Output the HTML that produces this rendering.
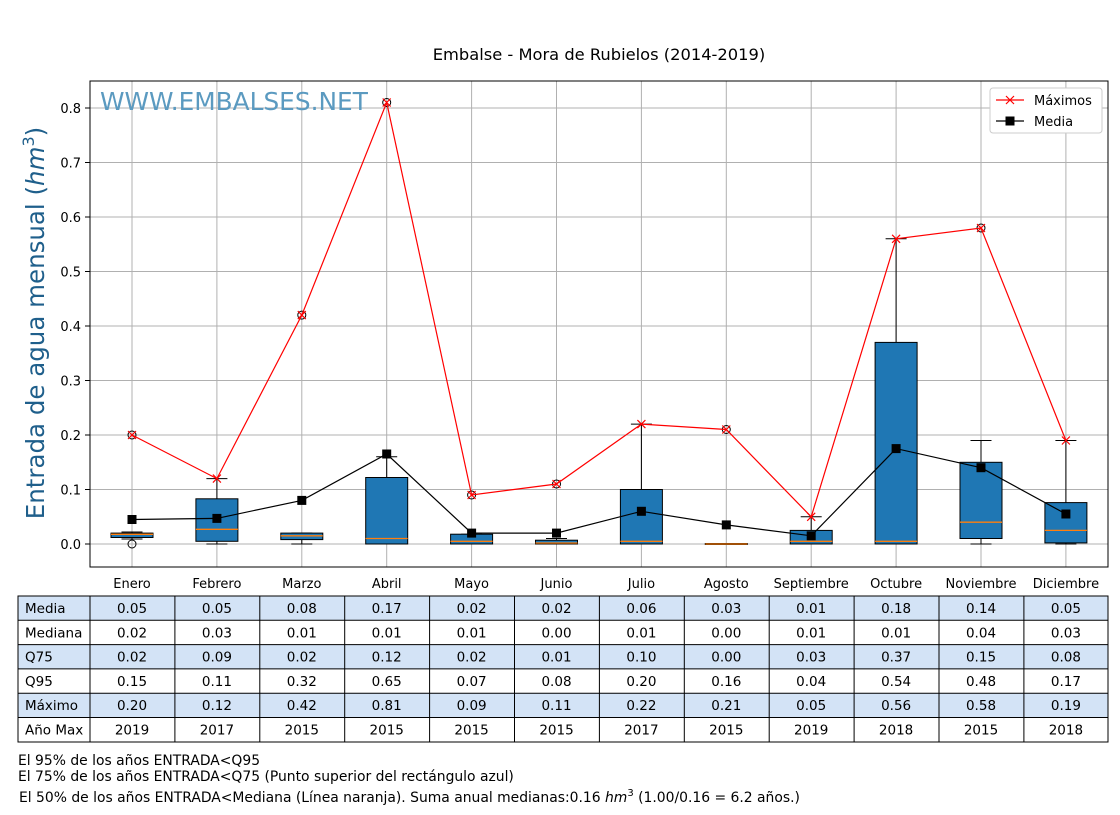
<!DOCTYPE html>
<html><head><meta charset="utf-8"><style>
body{margin:0;background:#fff}
svg text{font-family:"DejaVu Sans","Liberation Sans",sans-serif}
</style></head><body>
<svg width="1120" height="810" viewBox="0 0 1120 810" xmlns="http://www.w3.org/2000/svg">
<rect width="1120" height="810" fill="#fff"/>
<text x="599" y="60" font-size="16.3" text-anchor="middle">Embalse - Mora de Rubielos (2014-2019)</text>
<g stroke="#b0b0b0" stroke-width="1">
<line x1="90" x2="1108" y1="544" y2="544"/><line x1="90" x2="1108" y1="489.5" y2="489.5"/>
<line x1="90" x2="1108" y1="435" y2="435"/><line x1="90" x2="1108" y1="380.5" y2="380.5"/>
<line x1="90" x2="1108" y1="326" y2="326"/><line x1="90" x2="1108" y1="271.5" y2="271.5"/>
<line x1="90" x2="1108" y1="217" y2="217"/><line x1="90" x2="1108" y1="162.5" y2="162.5"/>
<line x1="90" x2="1108" y1="108" y2="108"/>
<line y1="81" y2="567" x1="132" x2="132"/><line y1="81" y2="567" x1="216.9" x2="216.9"/>
<line y1="81" y2="567" x1="301.8" x2="301.8"/><line y1="81" y2="567" x1="386.7" x2="386.7"/>
<line y1="81" y2="567" x1="471.6" x2="471.6"/><line y1="81" y2="567" x1="556.5" x2="556.5"/>
<line y1="81" y2="567" x1="641.4" x2="641.4"/><line y1="81" y2="567" x1="726.3" x2="726.3"/>
<line y1="81" y2="567" x1="811.2" x2="811.2"/><line y1="81" y2="567" x1="896.1" x2="896.1"/>
<line y1="81" y2="567" x1="981" x2="981"/><line y1="81" y2="567" x1="1065.9" x2="1065.9"/>
</g>
<text x="100" y="110" font-size="24.8" fill="#5b9ac0" font-family="DejaVu Sans">WWW.EMBALSES.NET</text>
<g stroke="#000" stroke-width="1" fill="none">
<path d="M132 537.5V539M121.5 539H142.5M132 533V532M121.5 532H142.5"/>
<path d="M216.9 541.3V544M206.4 544H227.4M216.9 498.8V478.6M206.4 478.6H227.4"/>
<path d="M301.8 539.6V544M291.3 544H312.3M291.3 533H312.3"/>
<path d="M376.2 544H397.2M386.7 477.5V456.8M376.2 456.8H397.2"/>
<path d="M461.1 544H482.1M461.1 534.2H482.1"/>
<path d="M546 544H567M556.5 540.2V538.5M546 538.5H567"/>
<path d="M630.9 544H651.9M641.4 489.5V424.1M630.9 424.1H651.9"/>
<path d="M715.8 544H736.8"/>
<path d="M800.7 544H821.7M811.2 530.4V516.8M800.7 516.8H821.7"/>
<path d="M885.6 544H906.6M896.1 342.4V238.8M885.6 238.8H906.6"/>
<path d="M981 538.5V544M970.5 544H991.5M981 462.3V440.5M970.5 440.5H991.5"/>
<path d="M1065.9 542.9V544M1055.4 544H1076.4M1065.9 502.6V440.5M1055.4 440.5H1076.4"/>
</g>
<g fill="#1f77b4" stroke="#000" stroke-width="1">
<rect x="111" y="533.1" width="42" height="4.4"/>
<rect x="195.9" y="498.8" width="42" height="42.5"/>
<rect x="280.8" y="533.1" width="42" height="6.5"/>
<rect x="365.7" y="477.5" width="42" height="66.5"/>
<rect x="450.6" y="534.2" width="42" height="9.8"/>
<rect x="535.5" y="540.2" width="42" height="3.8"/>
<rect x="620.4" y="489.5" width="42" height="54.5"/>
<rect x="705.3" y="543.5" width="42" height="1"/>
<rect x="790.2" y="530.4" width="42" height="13.6"/>
<rect x="875.1" y="342.4" width="42" height="201.6"/>
<rect x="960" y="462.3" width="42" height="76.2"/>
<rect x="1044.9" y="502.6" width="42" height="40.3"/>
</g>
<g stroke="#ff7f0e" stroke-width="1.3">
<line x1="111" x2="153" y1="534.3" y2="534.3"/><line x1="195.9" x2="237.9" y1="529.3" y2="529.3"/>
<line x1="280.8" x2="322.8" y1="535.8" y2="535.8"/><line x1="365.7" x2="407.7" y1="538.5" y2="538.5"/>
<line x1="450.6" x2="492.6" y1="541.3" y2="541.3"/><line x1="535.5" x2="577.5" y1="543" y2="543"/>
<line x1="620.4" x2="662.4" y1="541.3" y2="541.3"/><line x1="705.3" x2="747.3" y1="544" y2="544"/>
<line x1="790.2" x2="832.2" y1="541.3" y2="541.3"/><line x1="875.1" x2="917.1" y1="541.3" y2="541.3"/>
<line x1="960" x2="1002" y1="522.2" y2="522.2"/><line x1="1044.9" x2="1086.9" y1="530.4" y2="530.4"/>
</g>
<g fill="none" stroke="#000" stroke-width="1">
<circle cx="132" cy="544" r="4"/><circle cx="132" cy="435" r="4"/>
<circle cx="301.8" cy="315.1" r="4"/><circle cx="386.7" cy="102.5" r="4"/>
<circle cx="471.6" cy="495" r="4"/><circle cx="556.5" cy="484" r="4"/>
<circle cx="726.3" cy="429.5" r="4"/><circle cx="981" cy="228" r="4"/>
</g>
<polyline fill="none" stroke="#f00" stroke-width="1.2" points="132,435 216.9,478.6 301.8,315.1 386.7,102.5 471.6,495 556.5,484 641.4,424.1 726.3,429.5 811.2,516.8 896.1,238.8 981,228 1065.9,440.5"/>
<g stroke="#f00" stroke-width="1.2">
<path d="M128 431l8 8M136 431l-8 8"/><path d="M212.9 474.6l8 8M220.9 474.6l-8 8"/>
<path d="M297.8 311.1l8 8M305.8 311.1l-8 8"/><path d="M382.7 98.5l8 8M390.7 98.5l-8 8"/>
<path d="M467.6 491l8 8M475.6 491l-8 8"/><path d="M552.5 480l8 8M560.5 480l-8 8"/>
<path d="M637.4 420.1l8 8M645.4 420.1l-8 8"/><path d="M722.3 425.5l8 8M730.3 425.5l-8 8"/>
<path d="M807.2 512.8l8 8M815.2 512.8l-8 8"/><path d="M892.1 234.8l8 8M900.1 234.8l-8 8"/>
<path d="M977 224l8 8M985 224l-8 8"/><path d="M1061.9 436.5l8 8M1069.9 436.5l-8 8"/>
</g>
<polyline fill="none" stroke="#000" stroke-width="1.2" points="132,519.5 216.9,518.4 301.8,500.4 386.7,454 471.6,533.1 556.5,533.1 641.4,511.3 726.3,524.9 811.2,535.8 896.1,448.6 981,467.7 1065.9,514"/>
<g fill="#000">
<rect x="127.5" y="515" width="9" height="9"/><rect x="212.4" y="513.9" width="9" height="9"/>
<rect x="297.3" y="495.9" width="9" height="9"/><rect x="382.2" y="449.5" width="9" height="9"/>
<rect x="467.1" y="528.6" width="9" height="9"/><rect x="552" y="528.6" width="9" height="9"/>
<rect x="636.9" y="506.8" width="9" height="9"/><rect x="721.8" y="520.4" width="9" height="9"/>
<rect x="806.7" y="531.3" width="9" height="9"/><rect x="891.6" y="444.1" width="9" height="9"/>
<rect x="976.5" y="463.2" width="9" height="9"/><rect x="1061.4" y="509.5" width="9" height="9"/>
</g>
<rect x="90" y="81" width="1018" height="486" fill="none" stroke="#000" stroke-width="1"/>
<g stroke="#000"><line x1="85" x2="90" y1="544" y2="544"/><line x1="85" x2="90" y1="489.5" y2="489.5"/><line x1="85" x2="90" y1="435" y2="435"/><line x1="85" x2="90" y1="380.5" y2="380.5"/><line x1="85" x2="90" y1="326" y2="326"/><line x1="85" x2="90" y1="271.5" y2="271.5"/><line x1="85" x2="90" y1="217" y2="217"/><line x1="85" x2="90" y1="162.5" y2="162.5"/><line x1="85" x2="90" y1="108" y2="108"/></g>
<g font-size="13" text-anchor="end">
<text x="81" y="549">0.0</text><text x="81" y="494.5">0.1</text><text x="81" y="440">0.2</text><text x="81" y="385.5">0.3</text><text x="81" y="331">0.4</text><text x="81" y="276.5">0.5</text><text x="81" y="222">0.6</text><text x="81" y="167.5">0.7</text><text x="81" y="113">0.8</text>
</g>
<g font-size="13" text-anchor="middle">
<text x="132" y="588">Enero</text><text x="216.9" y="588">Febrero</text><text x="301.8" y="588">Marzo</text><text x="386.7" y="588">Abril</text><text x="471.6" y="588">Mayo</text><text x="556.5" y="588">Junio</text><text x="641.4" y="588">Julio</text><text x="726.3" y="588">Agosto</text><text x="811.2" y="588">Septiembre</text><text x="896.1" y="588">Octubre</text><text x="981" y="588">Noviembre</text><text x="1065.9" y="588">Diciembre</text>
</g>
<text transform="translate(44 323) rotate(-90)" font-size="24.5" fill="#1f5f8b" text-anchor="middle">Entrada de agua mensual (<tspan font-style="italic">hm</tspan><tspan font-size="16" dy="-10">3</tspan><tspan dy="10">)</tspan></text>
<rect x="990" y="88" width="112" height="45" rx="3" fill="#fff" stroke="#ccc"/>
<line x1="996" x2="1024" y1="100" y2="100" stroke="#f00" stroke-width="1.2"/><path d="M1006 96l8 8M1014 96l-8 8" stroke="#f00" stroke-width="1.2"/>
<text x="1034" y="105" font-size="13">Máximos</text>
<line x1="996" x2="1024" y1="121" y2="121" stroke="#000" stroke-width="1.2"/><rect x="1005.5" y="116.5" width="9" height="9"/>
<text x="1034" y="126" font-size="13">Media</text>
<g stroke="none">
<rect x="18" y="596" width="1090" height="24.3" fill="#d3e3f6"/>
<rect x="18" y="644.6" width="1090" height="24.3" fill="#d3e3f6"/>
<rect x="18" y="693.2" width="1090" height="24.3" fill="#d3e3f6"/>
</g>
<g stroke="#000" stroke-width="1" fill="none">
<rect x="18" y="596" width="1090" height="146"/>
<line x1="18" x2="1108" y1="620.3" y2="620.3"/><line x1="18" x2="1108" y1="644.6" y2="644.6"/><line x1="18" x2="1108" y1="668.9" y2="668.9"/><line x1="18" x2="1108" y1="693.2" y2="693.2"/><line x1="18" x2="1108" y1="717.5" y2="717.5"/>
<line y1="596" y2="742" x1="90" x2="90"/><line y1="596" y2="742" x1="174.9" x2="174.9"/><line y1="596" y2="742" x1="259.8" x2="259.8"/><line y1="596" y2="742" x1="344.7" x2="344.7"/><line y1="596" y2="742" x1="429.6" x2="429.6"/><line y1="596" y2="742" x1="514.5" x2="514.5"/><line y1="596" y2="742" x1="599.4" x2="599.4"/><line y1="596" y2="742" x1="684.3" x2="684.3"/><line y1="596" y2="742" x1="769.2" x2="769.2"/><line y1="596" y2="742" x1="854.1" x2="854.1"/><line y1="596" y2="742" x1="939" x2="939"/><line y1="596" y2="742" x1="1023.9" x2="1023.9"/>
</g>
<g font-size="13.5">
<text x="25" y="613">Media</text><text x="25" y="637.3">Mediana</text><text x="25" y="661.6">Q75</text><text x="25" y="685.9">Q95</text><text x="25" y="710.2">Máximo</text><text x="25" y="734.5">Año Max</text>
</g>
<g font-size="13.5" text-anchor="middle">
<text y="613"><tspan x="132">0.05</tspan><tspan x="216.9">0.05</tspan><tspan x="301.8">0.08</tspan><tspan x="386.7">0.17</tspan><tspan x="471.6">0.02</tspan><tspan x="556.5">0.02</tspan><tspan x="641.4">0.06</tspan><tspan x="726.3">0.03</tspan><tspan x="811.2">0.01</tspan><tspan x="896.1">0.18</tspan><tspan x="981">0.14</tspan><tspan x="1065.9">0.05</tspan></text>
<text y="637.3"><tspan x="132">0.02</tspan><tspan x="216.9">0.03</tspan><tspan x="301.8">0.01</tspan><tspan x="386.7">0.01</tspan><tspan x="471.6">0.01</tspan><tspan x="556.5">0.00</tspan><tspan x="641.4">0.01</tspan><tspan x="726.3">0.00</tspan><tspan x="811.2">0.01</tspan><tspan x="896.1">0.01</tspan><tspan x="981">0.04</tspan><tspan x="1065.9">0.03</tspan></text>
<text y="661.6"><tspan x="132">0.02</tspan><tspan x="216.9">0.09</tspan><tspan x="301.8">0.02</tspan><tspan x="386.7">0.12</tspan><tspan x="471.6">0.02</tspan><tspan x="556.5">0.01</tspan><tspan x="641.4">0.10</tspan><tspan x="726.3">0.00</tspan><tspan x="811.2">0.03</tspan><tspan x="896.1">0.37</tspan><tspan x="981">0.15</tspan><tspan x="1065.9">0.08</tspan></text>
<text y="685.9"><tspan x="132">0.15</tspan><tspan x="216.9">0.11</tspan><tspan x="301.8">0.32</tspan><tspan x="386.7">0.65</tspan><tspan x="471.6">0.07</tspan><tspan x="556.5">0.08</tspan><tspan x="641.4">0.20</tspan><tspan x="726.3">0.16</tspan><tspan x="811.2">0.04</tspan><tspan x="896.1">0.54</tspan><tspan x="981">0.48</tspan><tspan x="1065.9">0.17</tspan></text>
<text y="710.2"><tspan x="132">0.20</tspan><tspan x="216.9">0.12</tspan><tspan x="301.8">0.42</tspan><tspan x="386.7">0.81</tspan><tspan x="471.6">0.09</tspan><tspan x="556.5">0.11</tspan><tspan x="641.4">0.22</tspan><tspan x="726.3">0.21</tspan><tspan x="811.2">0.05</tspan><tspan x="896.1">0.56</tspan><tspan x="981">0.58</tspan><tspan x="1065.9">0.19</tspan></text>
<text y="734.5"><tspan x="132">2019</tspan><tspan x="216.9">2017</tspan><tspan x="301.8">2015</tspan><tspan x="386.7">2015</tspan><tspan x="471.6">2015</tspan><tspan x="556.5">2015</tspan><tspan x="641.4">2017</tspan><tspan x="726.3">2015</tspan><tspan x="811.2">2019</tspan><tspan x="896.1">2018</tspan><tspan x="981">2015</tspan><tspan x="1065.9">2018</tspan></text>
</g>
<g font-size="13.9">
<text x="18" y="765">El 95% de los años ENTRADA&lt;Q95</text>
<text x="18" y="781">El 75% de los años ENTRADA&lt;Q75 (Punto superior del rectángulo azul)</text>
<text x="19" y="802">El 50% de los años ENTRADA&lt;Mediana (Línea naranja). Suma anual medianas:0.16 <tspan font-style="italic">hm</tspan><tspan font-size="10" dy="-6">3</tspan><tspan dy="6"> (1.00/0.16 = 6.2 años.)</tspan></text>
</g>
</svg>
</body></html>
